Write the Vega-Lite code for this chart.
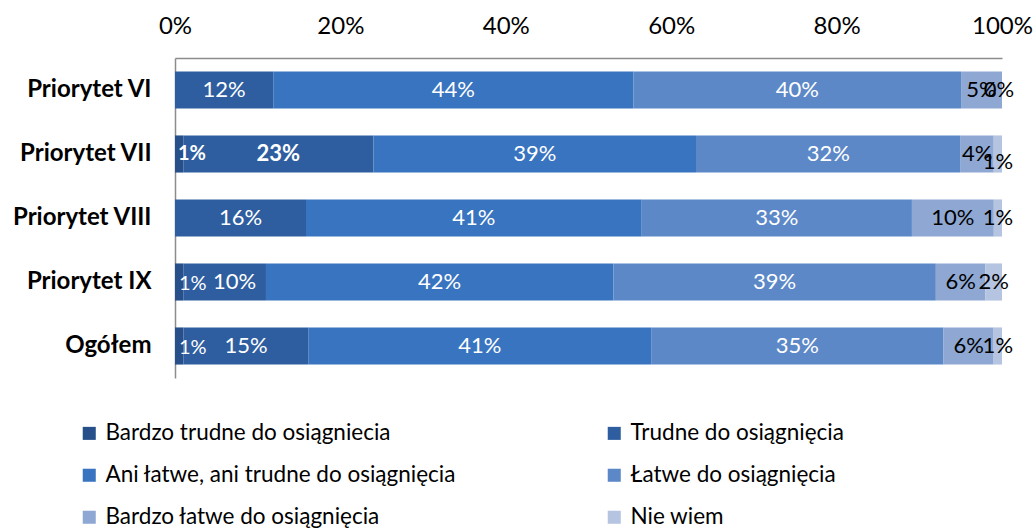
{
  "$schema": "https://vega.github.io/schema/vega-lite/v6.json",
  "autosize": {"type": "none"},
  "width": 827,
  "height": 320,
  "padding": {"left": 175, "top": 58, "right": 33, "bottom": 150},
  "background": "white",
  "config": {
    "view": {"stroke": null},
    "font": "Lato",
    "axis": {"labelFont": "Lato", "labelColor": "black", "ticks": false, "grid": false, "domainColor": "#8c8c8c", "domainWidth": 1.5, "title": null},
    "legend": {"labelFont": "Lato"}
  },
  "data": {
    "values": [
      {"cat": "Priorytet VI", "series": "Trudne do osiągnięcia", "k": 2, "value": 12},
      {"cat": "Priorytet VI", "series": "Ani łatwe, ani trudne do osiągnięcia", "k": 3, "value": 44},
      {"cat": "Priorytet VI", "series": "Łatwe do osiągnięcia", "k": 4, "value": 40},
      {"cat": "Priorytet VI", "series": "Bardzo łatwe do osiągnięcia", "k": 5, "value": 5},
      {"cat": "Priorytet VI", "series": "Nie wiem", "k": 6, "value": 0},
      {"cat": "Priorytet VII", "series": "Bardzo trudne do osiągniecia", "k": 1, "value": 1},
      {"cat": "Priorytet VII", "series": "Trudne do osiągnięcia", "k": 2, "value": 23},
      {"cat": "Priorytet VII", "series": "Ani łatwe, ani trudne do osiągnięcia", "k": 3, "value": 39},
      {"cat": "Priorytet VII", "series": "Łatwe do osiągnięcia", "k": 4, "value": 32},
      {"cat": "Priorytet VII", "series": "Bardzo łatwe do osiągnięcia", "k": 5, "value": 4},
      {"cat": "Priorytet VII", "series": "Nie wiem", "k": 6, "value": 1},
      {"cat": "Priorytet VIII", "series": "Trudne do osiągnięcia", "k": 2, "value": 16},
      {"cat": "Priorytet VIII", "series": "Ani łatwe, ani trudne do osiągnięcia", "k": 3, "value": 41},
      {"cat": "Priorytet VIII", "series": "Łatwe do osiągnięcia", "k": 4, "value": 33},
      {"cat": "Priorytet VIII", "series": "Bardzo łatwe do osiągnięcia", "k": 5, "value": 10},
      {"cat": "Priorytet VIII", "series": "Nie wiem", "k": 6, "value": 1},
      {"cat": "Priorytet IX", "series": "Bardzo trudne do osiągniecia", "k": 1, "value": 1},
      {"cat": "Priorytet IX", "series": "Trudne do osiągnięcia", "k": 2, "value": 10},
      {"cat": "Priorytet IX", "series": "Ani łatwe, ani trudne do osiągnięcia", "k": 3, "value": 42},
      {"cat": "Priorytet IX", "series": "Łatwe do osiągnięcia", "k": 4, "value": 39},
      {"cat": "Priorytet IX", "series": "Bardzo łatwe do osiągnięcia", "k": 5, "value": 6},
      {"cat": "Priorytet IX", "series": "Nie wiem", "k": 6, "value": 2},
      {"cat": "Ogółem", "series": "Bardzo trudne do osiągniecia", "k": 1, "value": 1},
      {"cat": "Ogółem", "series": "Trudne do osiągnięcia", "k": 2, "value": 15},
      {"cat": "Ogółem", "series": "Ani łatwe, ani trudne do osiągnięcia", "k": 3, "value": 41},
      {"cat": "Ogółem", "series": "Łatwe do osiągnięcia", "k": 4, "value": 35},
      {"cat": "Ogółem", "series": "Bardzo łatwe do osiągnięcia", "k": 5, "value": 6},
      {"cat": "Ogółem", "series": "Nie wiem", "k": 6, "value": 1}
    ]
  },
  "transform": [
    {"stack": "value", "groupby": ["cat"], "sort": [{"field": "k", "order": "ascending"}], "offset": "normalize", "as": ["x0", "x1"]},
    {"calculate": "(datum.x0 + datum.x1) / 2", "as": "mid"},
    {"calculate": "datum.value + '%'", "as": "label"}
  ],
  "encoding": {
    "y": {
      "field": "cat", "type": "nominal",
      "sort": ["Priorytet VI", "Priorytet VII", "Priorytet VIII", "Priorytet IX", "Ogółem"],
      "scale": {"paddingInner": 0.42, "paddingOuter": 0.21},
      "axis": {"orient": "left", "labelFontSize": 24, "labelFontWeight": "bold", "labelPadding": 24}
    }
  },
  "layer": [
    {
      "mark": {"type": "bar"},
      "encoding": {
        "x": {"field": "x0", "type": "quantitative", "scale": {"domain": [0, 1], "nice": false},
          "axis": {"orient": "top", "values": [0, 0.2, 0.4, 0.6, 0.8, 1], "format": ".0%", "labelFontSize": 24, "labelPadding": 20, "labelFlush": false, "labelOverlap": false}},
        "x2": {"field": "x1"},
        "color": {
          "field": "series", "type": "nominal",
          "scale": {
            "domain": ["Bardzo trudne do osiągniecia", "Trudne do osiągnięcia", "Ani łatwe, ani trudne do osiągnięcia", "Łatwe do osiągnięcia", "Bardzo łatwe do osiągnięcia", "Nie wiem"],
            "range": ["#274f89", "#2e5e9f", "#3874bf", "#5c88c8", "#8ea8d3", "#b5c4e1"]
          },
          "legend": {
            "title": null, "orient": "none", "legendX": -97, "legendY": 364, "columns": 2, "direction": "horizontal",
            "symbolType": "square", "symbolSize": 170, "symbolStrokeWidth": 0, "labelFontSize": 22.5, "labelColor": "black",
            "labelOffset": 5, "rowPadding": 19, "columnPadding": 146, "gridAlign": "all", "labelLimit": 600
          }
        }
      }
    },
    {
      "transform": [{"filter": "datum.series !== 'Bardzo trudne do osiągniecia' && !(datum.cat === 'Priorytet VII' && (datum.series === 'Trudne do osiągnięcia' || datum.series === 'Nie wiem')) && !(datum.cat === 'Priorytet IX' && datum.series === 'Trudne do osiągnięcia') && !(datum.cat === 'Priorytet VI' && datum.series === 'Nie wiem')"}],
      "mark": {"type": "text", "fontSize": 22, "font": "Lato", "baseline": "middle", "align": "center"},
      "encoding": {
        "x": {"field": "mid", "type": "quantitative"},
        "text": {"field": "label"},
        "color": {"condition": {"test": "datum.series === 'Bardzo łatwe do osiągnięcia' || datum.series === 'Nie wiem'", "value": "black"}, "value": "white"}
      }
    },
    {
      "transform": [{"filter": "datum.cat === 'Priorytet VI' && datum.series === 'Nie wiem'"}],
      "mark": {"type": "text", "fontSize": 22, "font": "Lato", "baseline": "middle", "align": "center", "dx": -3, "color": "black"},
      "encoding": {
        "x": {"field": "mid", "type": "quantitative"},
        "text": {"field": "label"}
      }
    },
    {
      "transform": [{"filter": "datum.cat === 'Priorytet IX' && datum.series === 'Trudne do osiągnięcia'"}],
      "mark": {"type": "text", "fontSize": 22, "font": "Lato", "baseline": "middle", "align": "center", "dx": 10, "color": "white"},
      "encoding": {
        "x": {"field": "mid", "type": "quantitative"},
        "text": {"field": "label"}
      }
    },
    {
      "transform": [{"filter": "datum.series === 'Bardzo trudne do osiągniecia' && datum.cat !== 'Priorytet VII'"}],
      "mark": {"type": "text", "fontSize": 20, "font": "Lato", "baseline": "middle", "align": "left", "dx": 4, "dy": 2, "color": "white"},
      "encoding": {
        "x": {"field": "x0", "type": "quantitative"},
        "text": {"field": "label"}
      }
    },
    {
      "transform": [{"filter": "datum.cat === 'Priorytet VII' && datum.series === 'Bardzo trudne do osiągniecia'"}],
      "mark": {"type": "text", "fontSize": 20, "font": "Lato", "fontWeight": "bold", "baseline": "middle", "align": "left", "dx": 3, "color": "white"},
      "encoding": {
        "x": {"field": "x0", "type": "quantitative"},
        "text": {"field": "label"}
      }
    },
    {
      "transform": [{"filter": "datum.cat === 'Priorytet VII' && datum.series === 'Trudne do osiągnięcia'"}],
      "mark": {"type": "text", "fontSize": 22, "font": "Lato", "fontWeight": "bold", "baseline": "middle", "align": "center", "color": "white"},
      "encoding": {
        "x": {"field": "mid", "type": "quantitative"},
        "text": {"field": "label"}
      }
    },
    {
      "transform": [{"filter": "datum.cat === 'Priorytet VII' && datum.series === 'Nie wiem'"}],
      "mark": {"type": "text", "fontSize": 22, "font": "Lato", "baseline": "middle", "align": "center", "dy": 8, "color": "black"},
      "encoding": {
        "x": {"field": "mid", "type": "quantitative"},
        "text": {"field": "label"}
      }
    }
  ]
}
